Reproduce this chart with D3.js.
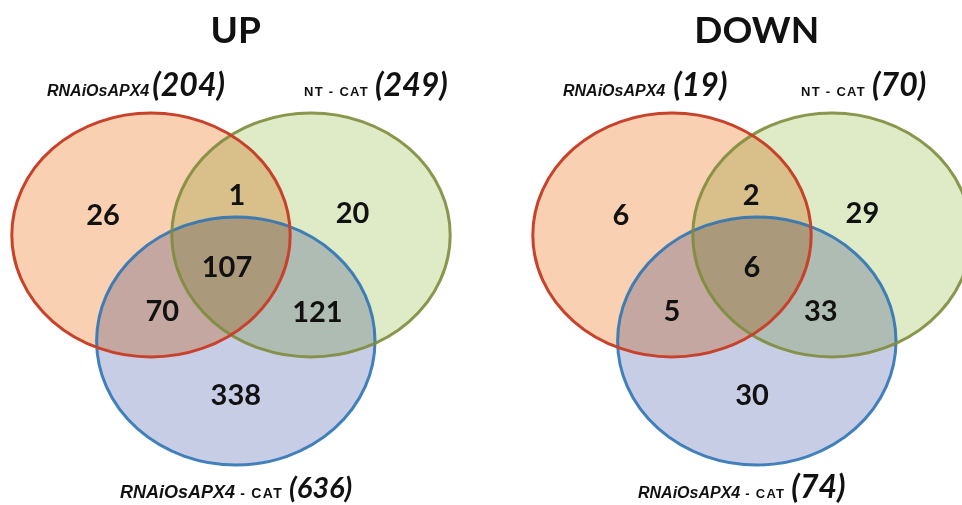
<!DOCTYPE html>
<html>
<head>
<meta charset="utf-8">
<script src="https://cdn.jsdelivr.net/npm/d3@7"></script>
<style>
  body { margin: 0; background: #fff; }
  svg { display: block; }
</style>
</head>
<body>
<div id="chart"></div>
<script>
// data
const panelTitles = ["UP", "DOWN"];
const setNames = ["RNAiOsAPX4", "NT - CAT", "RNAiOsAPX4 - CAT"];
const setTotals = [[204, 249, 636], [19, 70, 74]];
const regionKeys = ["A", "AB", "B", "ABC", "AC", "BC", "C"];
const regionCounts = [
  [26, 1, 20, 107, 70, 121, 338],
  [6, 2, 29, 6, 5, 33, 30]
];

const width = 962, height = 505;

// venn geometry in unit space (centre of red/green pair = 0,0)
const ellipses = [
  { set: 2, cx: 0.03, cy: 0.6625, rx: 0.87, ry: 0.775, fill: "#c8cde6", stroke: "#2f74b5" },
  { set: 1, cx: 0.5, cy: 0, rx: 0.87, ry: 0.7625, fill: "#dfeac7", stroke: "#7e8c3c" },
  { set: 0, cx: -0.5, cy: 0, rx: 0.87, ry: 0.7625, fill: "#f9d0b1", stroke: "#c8422b" }
];

// per panel layout: centre, count label spots, set label anchors and sizes
const panelLayout = [
  {
    cx: 231, cy: 235,
    regions: {
      A: [-0.8, -0.125], AB: [0.0375, -0.25], B: [0.76, -0.14],
      ABC: [-0.025, 0.2], AC: [-0.43, 0.47], BC: [0.54, 0.48], C: [0.03, 1.0]
    },
    labelA: -184, gapA: 3, labelB: 73, labelC: -111,
    bottomName: 18, bottomCat: 14, bottomNum: 29
  },
  {
    cx: 752, cy: 235,
    regions: {
      A: [-0.82, -0.125], AB: [-0.006, -0.25], B: [0.69, -0.14],
      ABC: [0, 0.2], AC: [-0.5, 0.47], BC: [0.43, 0.47], C: [0, 1.0]
    },
    labelA: -189, gapA: 8, labelB: 49, labelC: -114,
    bottomName: 16, bottomCat: 13, bottomNum: 32
  }
];

const sans = "'Liberation Sans', Arial, sans-serif";
const lato = "Lato, 'Open Sans', sans-serif";

const svg = d3.select("#chart").append("svg")
  .attr("width", width)
  .attr("height", height);

panelTitles.forEach((title, p) => {
  const lay = panelLayout[p];
  const x = d3.scaleLinear().domain([-1, 1]).range([lay.cx - 160, lay.cx + 160]);
  const y = d3.scaleLinear().domain([-1, 1]).range([lay.cy - 160, lay.cy + 160]);
  const k = x(1) - x(0);

  const g = svg.append("g");

  // title
  g.append("text")
    .attr("x", x(0.03))
    .attr("y", 43)
    .attr("text-anchor", "middle")
    .attr("font-family", lato)
    .attr("font-weight", 700)
    .attr("font-size", 37)
    .attr("fill", "#111")
    .text(title);

  // ellipse fills (multiply so overlaps darken)
  g.selectAll("ellipse.fill")
    .data(ellipses)
    .join("ellipse")
    .attr("class", "fill")
    .attr("cx", d => x(d.cx))
    .attr("cy", d => y(d.cy))
    .attr("rx", d => d.rx * k)
    .attr("ry", d => d.ry * k)
    .attr("fill", d => d.fill)
    .style("mix-blend-mode", "multiply");

  // outlines
  g.selectAll("ellipse.outline")
    .data(ellipses)
    .join("ellipse")
    .attr("class", "outline")
    .attr("cx", d => x(d.cx))
    .attr("cy", d => y(d.cy))
    .attr("rx", d => d.rx * k)
    .attr("ry", d => d.ry * k)
    .attr("fill", "none")
    .attr("stroke", d => d.stroke)
    .attr("stroke-width", 3)
    .attr("stroke-opacity", d => d.set === 0 ? 1 : 0.9);

  // region counts
  g.selectAll("text.count")
    .data(regionKeys.map((key, i) => ({ key, value: regionCounts[p][i] })))
    .join("text")
    .attr("class", "count")
    .attr("x", d => x(lay.regions[d.key][0]))
    .attr("y", d => y(lay.regions[d.key][1]))
    .attr("dy", "0.36em")
    .attr("text-anchor", "middle")
    .attr("font-family", lato)
    .attr("font-weight", 700)
    .attr("font-size", 29)
    .attr("fill", "#111")
    .text(d => d.value);

  // set labels
  function setLabel(i, xStart, yBase, bottom) {
    const t = g.append("text")
      .attr("x", xStart)
      .attr("y", yBase)
      .attr("fill", "#111");
    const name = setNames[i];
    const parts = name.split(" - ");
    let gap = 6;
    if (parts[0] === "NT") {
      t.append("tspan")
        .attr("font-family", sans)
        .attr("font-weight", 700)
        .attr("font-size", 13)
        .attr("letter-spacing", 1.3)
        .text(name);
    } else {
      t.append("tspan")
        .attr("font-family", sans)
        .attr("font-weight", 700)
        .attr("font-style", "italic")
        .attr("font-size", bottom ? lay.bottomName : 16)
        .text(parts[0]);
      if (parts[1]) {
        t.append("tspan")
          .attr("font-family", sans)
          .attr("font-weight", 700)
          .attr("font-size", lay.bottomCat)
          .attr("letter-spacing", 1.3)
          .text(" - " + parts[1]);
      } else {
        gap = lay.gapA;
      }
    }
    t.append("tspan")
      .attr("dx", gap)
      .attr("font-family", lato)
      .attr("font-weight", 700)
      .attr("font-style", "italic")
      .attr("font-size", bottom ? lay.bottomNum : 32)
      .text("(" + setTotals[p][i] + ")");
  }

  setLabel(0, lay.cx + lay.labelA, 96, false);
  setLabel(1, lay.cx + lay.labelB, 96, false);
  setLabel(2, lay.cx + lay.labelC, 498, true);
});
</script>
</body>
</html>
